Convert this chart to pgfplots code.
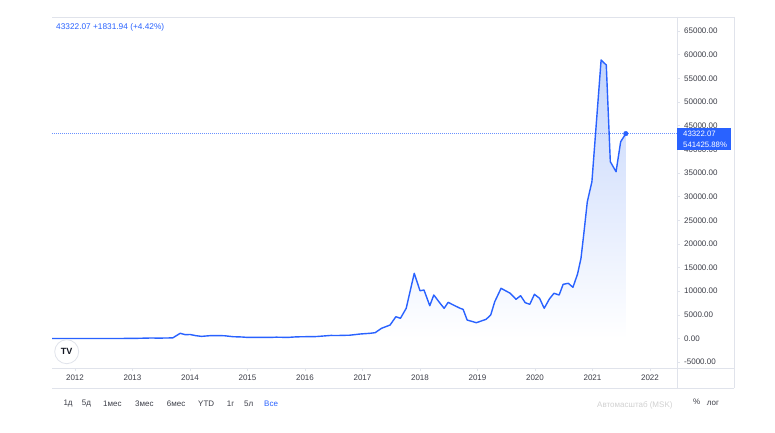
\documentclass[border=0pt]{standalone}
\usepackage{fontspec}
\setmainfont{Liberation Sans}
\usepackage{pgfplots}
\usepackage{pgfplotstable}
\pgfplotsset{compat=1.18}
\definecolor{tvblue}{RGB}{41,98,255}
\definecolor{tvtext}{RGB}{60,62,72}
\definecolor{tvline}{RGB}{224,227,235}
\definecolor{tvfill}{RGB}{196,213,252}
\pgfplotstableread{
x y
2011.60 5
2012.00 5
2012.50 7
2013.00 13
2013.30 100
2013.50 90
2013.70 130
2013.83 1100
2013.92 800
2014.00 850
2014.10 600
2014.20 450
2014.35 600
2014.50 620
2014.60 580
2014.75 380
2014.90 320
2015.00 230
2015.20 240
2015.40 230
2015.50 280
2015.70 230
2015.85 350
2016.00 380
2016.20 415
2016.45 650
2016.55 630
2016.78 700
2016.96 950
2017.13 1100
2017.22 1230
2017.33 2150
2017.48 2850
2017.58 4600
2017.66 4270
2017.76 6380
2017.90 13780
2018.00 10100
2018.07 10250
2018.17 6930
2018.24 9200
2018.35 7440
2018.42 6380
2018.49 7650
2018.58 7080
2018.70 6380
2018.75 6170
2018.82 3910
2018.98 3340
2019.15 4060
2019.23 4970
2019.30 7780
2019.41 10610
2019.57 9560
2019.67 8290
2019.75 9050
2019.83 7570
2019.91 7230
2019.99 9340
2020.08 8500
2020.16 6380
2020.25 8350
2020.33 9560
2020.42 9200
2020.49 11460
2020.58 11670
2020.66 10820
2020.74 13630
2020.80 16950
2020.85 22240
2020.91 28920
2020.99 33150
2021.15 58880
2021.24 57820
2021.31 37380
2021.41 35264
2021.49 41600
2021.58 43322
}\btc
\begin{document}
\begin{tikzpicture}
\useasboundingbox (0,0) rectangle (775pt,432pt);
\fill[white] (0,0) rectangle (775pt,432pt);
\begin{axis}[
  at={(52pt,64pt)}, anchor=south west,
  scale only axis, width=625pt, height=351pt,
  xmin=2011.6, xmax=2022.47, ymin=-6237, ymax=67970,
  axis line style={draw=none},
  scaled y ticks=false, scaled x ticks=false,
  xtick={2012,2013,2014,2015,2016,2017,2018,2019,2020,2021,2022},
  xticklabels={2012,2013,2014,2015,2016,2017,2018,2019,2020,2021,2022},
  ytick={-5000,0,5000,10000,15000,20000,25000,30000,35000,40000,45000,50000,55000,60000,65000},
  yticklabels={-5000.00,0.00,5000.00,10000.00,15000.00,20000.00,25000.00,30000.00,35000.00,40000.00,45000.00,50000.00,55000.00,60000.00,65000.00},
  ytick pos=right, xtick pos=bottom,
  tick align=outside, major tick length=3pt,
  tick style={draw=tvline, thin},
  yticklabel style={anchor=west, inner sep=0pt, xshift=4pt, font=\fontsize{8}{9.6}\selectfont, text=tvtext},
  xticklabel style={anchor=center, inner sep=0pt, yshift=-7pt, font=\fontsize{8}{9.6}\selectfont, text=tvtext},
  clip=false,
]
\addplot[draw=none, top color=tvfill, bottom color=white] table[x=x,y=y] {\btc} \closedcycle;
\addplot[tvblue!70, dash pattern=on 0.8pt off 1.2pt, line width=0.5pt] coordinates {(2011.6,43322) (2022.47,43322)};
\addplot[tvblue, line width=1.4pt, line join=round] table[x=x,y=y] {\btc};
\addplot[tvblue, only marks, mark=*, mark size=2.3pt] coordinates {(2021.58,43322)};
\end{axis}
\begin{scope}[x=1pt,y=1pt]
\draw[tvline, line width=0.8pt] (52,432-17) -- (734,432-17);
\draw[tvline, line width=0.8pt] (52,432-368) -- (734,432-368);
\draw[tvline, line width=0.8pt] (52,432-388) -- (734,432-388);
\draw[tvline, line width=0.8pt] (677,432-17) -- (677,432-388);
\draw[tvline, line width=0.8pt] (734,432-17) -- (734,432-388);
\node[anchor=west, inner sep=0pt, text=tvblue, font=\fontsize{8.3}{10}\selectfont] at (56,432-27) {43322.07 +1831.94 (+4.42\%)};
\fill[tvblue] (677,432-127.7) rectangle (731,432-150);
\node[anchor=west, inner sep=0pt, text=white, font=\fontsize{7.8}{9}\selectfont] at (683,432-133.5) {43322.07};
\node[anchor=west, inner sep=0pt, text=white, font=\fontsize{7.8}{9}\selectfont] at (683,432-144.5) {541425.88\%};
\filldraw[fill=white, draw=tvline, line width=0.8pt] (66.7,432-351.7) circle (12);
\node[inner sep=0pt, text={rgb,255:red,19;green,23;blue,34}, font=\fontsize{9}{10}\bfseries\selectfont] at (66.7,432-351.7) {TV};
\begin{scope}[every node/.style={anchor=west, inner sep=0pt, text=tvtext, font=\fontsize{8}{9.6}\selectfont}]
\node at (63.3,432-403.3) {1д};
\node at (81.7,432-403.3) {5д};
\node at (103,432-403.3) {1мес};
\node at (135,432-403.3) {3мес};
\node at (166.7,432-403.3) {6мес};
\node at (198,432-403.3) {YTD};
\node at (226.7,432-403.3) {1г};
\node at (244,432-403.3) {5л};
\node[text=tvblue] at (264,432-403.3) {Все};
\node[text=black!18] at (597,432-405) {Автомасштаб (MSK)};
\node at (693,432-402) {\%};
\node at (706.7,432-403.3) {лог};
\end{scope}
\end{scope}
\end{tikzpicture}
\end{document}
